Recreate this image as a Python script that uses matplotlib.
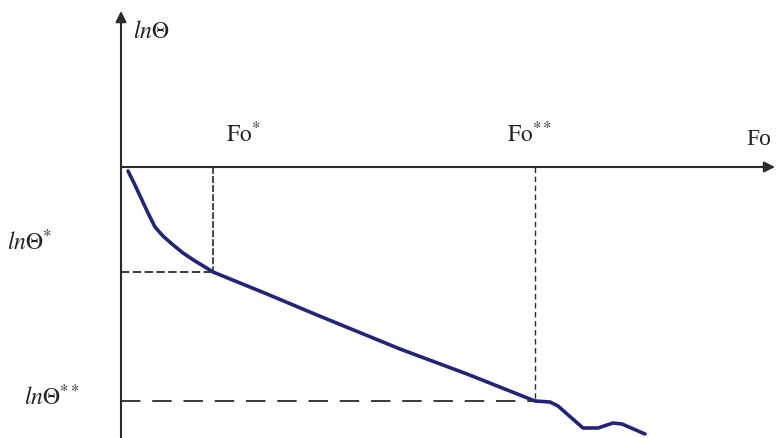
import matplotlib
matplotlib.use("Agg")
import matplotlib.pyplot as plt

# curve (arbitrary units, origin at the axes crossing)
fo = [0.07, 0.13, 0.20, 0.27, 0.34, 0.42, 0.51, 0.62, 0.74, 0.84, 0.92,
      1.46, 1.96, 2.79, 3.46, 4.14, 4.29, 4.37, 4.62, 4.77, 4.92, 5.01, 5.24]
ln_theta = [-0.04, -0.16, -0.31, -0.46, -0.60, -0.69, -0.77, -0.86, -0.94, -1.00, -1.05,
            -1.27, -1.48, -1.82, -2.07, -2.34, -2.35, -2.39, -2.61, -2.61, -2.56, -2.57, -2.67]

fo_star, ln_theta_star = 0.92, -1.05
fo_2star, ln_theta_2star = 4.14, -2.34

plt.rcParams['mathtext.fontset'] = 'stix'
plt.rcParams['font.family'] = 'Liberation Serif'
plt.rcParams['lines.scale_dashes'] = False

fig = plt.figure(figsize=(7.79, 4.39), dpi=100)
ax = fig.add_axes([0, 0, 1, 1])
ax.set_xlim(-1.21, 6.58)
ax.set_ylim(-2.71, 1.68)
ax.axis('off')

axis_col = '#2b2b2b'
# axes with arrows
ax.annotate('', xy=(6.54, 0), xytext=(0, 0),
            arrowprops=dict(arrowstyle='-|>', color=axis_col, lw=1.5, mutation_scale=16,
                            shrinkA=0, shrinkB=0))
ax.annotate('', xy=(0, 1.56), xytext=(0, -2.71),
            arrowprops=dict(arrowstyle='-|>', color=axis_col, lw=1.5, mutation_scale=16,
                            shrinkA=0, shrinkB=0))

# guide lines
ax.plot([fo_star, fo_star], [0, ln_theta_star], color=axis_col, lw=1.2, dashes=(5, 1.5))
ax.plot([0, fo_star], [ln_theta_star, ln_theta_star], color=axis_col, lw=1.3, dashes=(6, 2.5))
ax.plot([fo_2star, fo_2star], [0, ln_theta_2star], color=axis_col, lw=1.0, dashes=(4, 2.5))
ax.plot([0, fo_2star], [ln_theta_2star, ln_theta_2star], color=axis_col, lw=1.3, dashes=(14, 8.5))

# curve
ax.plot(fo, ln_theta, color='#24237a', lw=2.6, solid_capstyle='round', solid_joinstyle='round')

fs = 17
txt_col = '#222222'
ax.text(0.12, 1.30, r'$\mathit{ln}\Theta$', fontsize=fs, color=txt_col, va='baseline')
ax.text(1.05, 0.26, r'$\mathrm{Fo}^{*}$', fontsize=fs, color=txt_col, va='baseline')
ax.text(3.86, 0.26, r'$\mathrm{Fo}^{**}$', fontsize=fs, color=txt_col, va='baseline')
ax.text(6.25, 0.23, 'Fo', fontsize=fs, color=txt_col, va='baseline')
ax.text(-1.14, -0.82, r'$\mathit{ln}\Theta^{*}$', fontsize=fs, color=txt_col, va='baseline')
ax.text(-0.97, -2.37, r'$\mathit{ln}\Theta^{**}$', fontsize=fs, color=txt_col, va='baseline')

fig.savefig('out.png', dpi=100, facecolor='white')
